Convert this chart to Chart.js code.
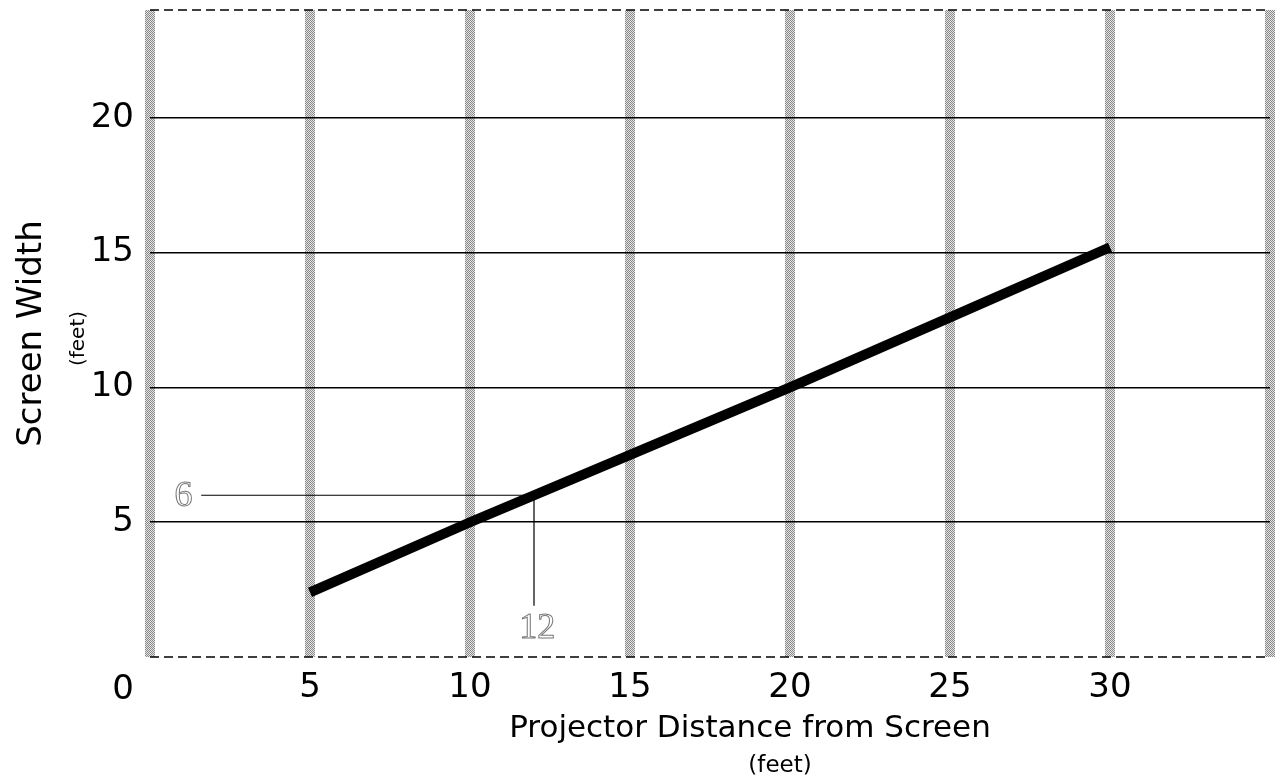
<!DOCTYPE html>
<html>
<head>
<meta charset="utf-8">
<title>Screen Width vs Projector Distance</title>
<script src="https://cdn.jsdelivr.net/npm/chart.js@4.4.0/dist/chart.umd.min.js"></script>
<style>
    body { margin: 0; background: #fff; }
    #wrap { width: 1276px; height: 777px; }
</style>
</head>
<body>
<div id="wrap"><canvas id="throwChart" width="1276" height="777"></canvas></div>
<script>
// --- data ---
const distances = [5, 10, 15, 20, 25, 30];          // feet from screen
const widths = [2.4, 5, 7.5, 10, 12.6, 15.2];       // screen width, feet
const xTicks = [0, 5, 10, 15, 20, 25, 30];
const yTicks = [5, 10, 15, 20];
// worked example guide: 12 ft distance -> 6 ft width
const guideX = [1.6, 12, 12];
const guideY = [6, 6, 1.9];
const noteText = ['6', '12'];
const noteX = [1.05, 12.1];
const noteY = [5.95, 1.05];

const FONT = '"DejaVu Sans", Verdana, sans-serif';

// hatched gray for the vertical grid bars
function hatch() {
    const c = document.createElement('canvas');
    c.width = 2; c.height = 2;
    const g = c.getContext('2d');
    g.fillStyle = '#e4e4e4'; g.fillRect(0, 0, 2, 2);
    g.fillStyle = '#8a8a8a'; g.fillRect(0, 0, 1, 1); g.fillRect(1, 1, 1, 1);
    return g.createPattern(c, 'repeat');
}
const hatchPattern = hatch();

function dashedEdge(ctx, area, yPix) {
    ctx.save();
    ctx.strokeStyle = '#000';
    ctx.lineWidth = 1.5;
    ctx.setLineDash([9, 5]);
    ctx.beginPath();
    ctx.moveTo(area.left, yPix);
    ctx.lineTo(area.right, yPix);
    ctx.stroke();
    ctx.restore();
}

const extras = {
    id: 'extras',
    beforeDatasetsDraw(chart) {
        // dashed top and bottom frame
        dashedEdge(chart.ctx, chart.chartArea, chart.chartArea.top);
        dashedEdge(chart.ctx, chart.chartArea, chart.chartArea.bottom);
    },
    afterDraw(chart) {
        const { ctx, chartArea, scales } = chart;
        const x = scales.x, y = scales.y;
        ctx.save();
        ctx.fillStyle = '#000';

        // origin label sits left of the corner
        ctx.font = '34px ' + FONT;
        ctx.textAlign = 'center';
        ctx.textBaseline = 'top';
        ctx.fillText('0', x.getPixelForValue(0) - 27, chartArea.bottom + 16);

        // x axis title
        const cx = (chartArea.left + chartArea.right) / 2 + 40;
        ctx.textBaseline = 'alphabetic';
        ctx.font = '31px ' + FONT;
        ctx.fillText('Projector Distance from Screen', cx, chartArea.bottom + 80);
        ctx.font = '23px ' + FONT;
        ctx.fillText('(feet)', cx + 30, chartArea.bottom + 115);

        // y axis title
        const cy = (chartArea.top + chartArea.bottom) / 2;
        ctx.save();
        ctx.translate(41, cy);
        ctx.rotate(-Math.PI / 2);
        ctx.font = '34px ' + FONT;
        ctx.fillText('Screen Width', 0, 0);
        ctx.restore();
        ctx.save();
        ctx.translate(84, cy + 5);
        ctx.rotate(-Math.PI / 2);
        ctx.font = '20px ' + FONT;
        ctx.fillText('(feet)', 0, 0);
        ctx.restore();

        // hollow serif notes on the guide
        ctx.font = '36px "Liberation Serif", "DejaVu Serif", serif';
        ctx.strokeStyle = '#777';
        ctx.lineWidth = 1;
        ctx.textBaseline = 'middle';
        noteText.forEach((t, i) => {
            ctx.strokeText(t, x.getPixelForValue(noteX[i]), y.getPixelForValue(noteY[i]));
        });
        ctx.restore();
    }
};

const ctx = document.getElementById('throwChart').getContext('2d');
const throwChart = new Chart(ctx, {
    type: 'line',
    data: {
        datasets: [{
            data: distances.map((d, i) => ({ x: d, y: widths[i] })),
            borderColor: '#000',
            borderWidth: 10,
            pointRadius: 0,
            tension: 0,
            fill: false
        }, {
            data: guideX.map((d, i) => ({ x: d, y: guideY[i] })),
            borderColor: '#000',
            borderWidth: 1.2,
            pointRadius: 0,
            tension: 0,
            fill: false
        }]
    },
    options: {
        responsive: false,
        animation: false,
        layout: { padding: { top: 10, right: 6, left: 0, bottom: 0 } },
        plugins: {
            legend: { display: false },
            tooltip: { enabled: false }
        },
        scales: {
            x: {
                type: 'linear',
                min: 0,
                max: 35,
                afterBuildTicks: s => { s.ticks = xTicks.concat([35]).map(v => ({ value: v })); },
                afterFit: s => { s.height = 120; s.paddingLeft = 0; s.paddingRight = 0; },
                grid: {
                    color: hatchPattern,
                    lineWidth: 10,
                    drawTicks: false
                },
                border: { display: false },
                ticks: {
                    padding: 11,
                    color: '#000',
                    font: { size: 34, family: FONT },
                    callback: v => (v === 0 || v === 35) ? '' : v
                }
            },
            y: {
                type: 'linear',
                min: 0,
                max: 24,
                z: -1,
                afterBuildTicks: s => { s.ticks = yTicks.map(v => ({ value: v })); },
                afterFit: s => { s.width = 150; s.paddingTop = 0; s.paddingBottom = 0; },
                grid: {
                    color: '#000',
                    lineWidth: 1.5,
                    drawTicks: false
                },
                border: { display: false },
                ticks: {
                    padding: 16,
                    color: '#000',
                    font: { size: 34, family: FONT }
                }
            }
        }
    },
    plugins: [extras]
});
</script>
</body>
</html>
